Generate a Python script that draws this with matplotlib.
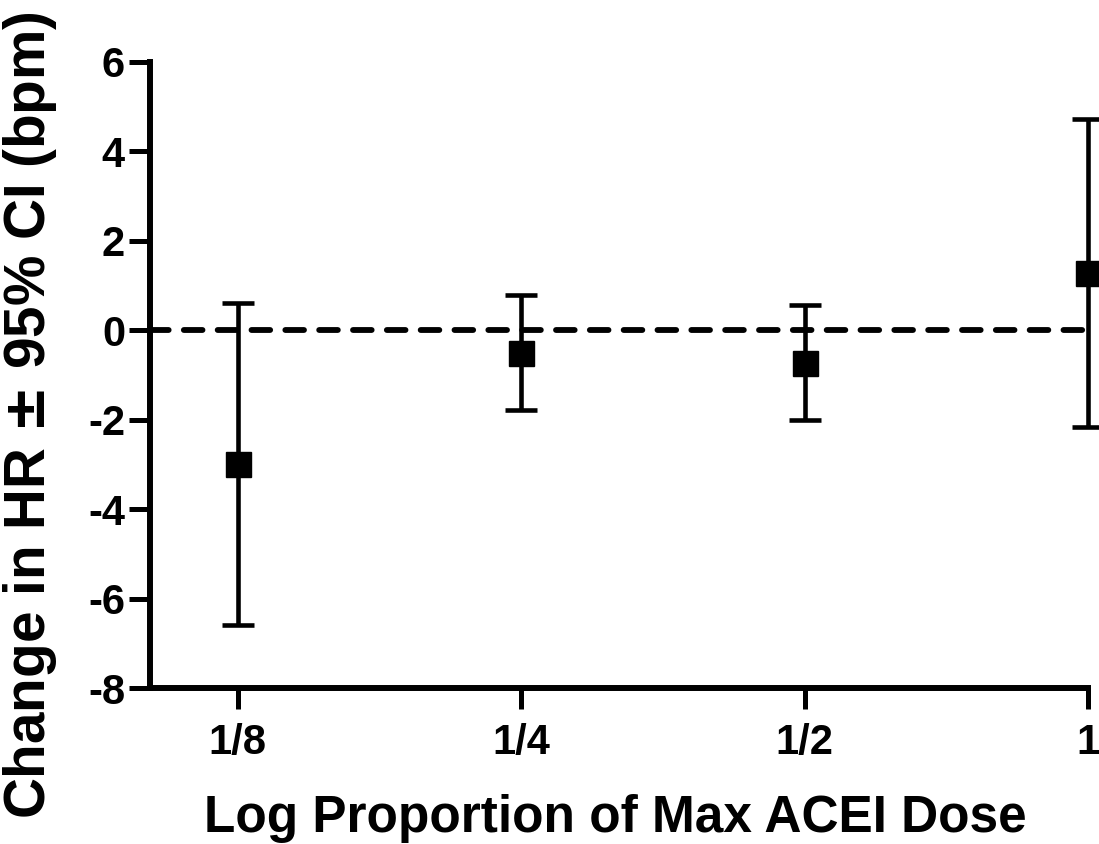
import numpy as np
import matplotlib.pyplot as plt

plt.rcParams['font.family'] = ['Liberation Sans', 'DejaVu Sans']
plt.rcParams['font.weight'] = 'bold'
plt.rcParams['axes.unicode_minus'] = False

# dose as proportion of max ACEI dose
dose = [1/8, 1/4, 1/2, 1]
dose_labels = ['1/8', '1/4', '1/2', '1']
# change in HR (bpm) with 95% CI
hr_change = [-3.0, -0.5, -0.73, 1.27]
ci_low = [-6.6, -1.79, -2.01, -2.16]
ci_high = [0.62, 0.79, 0.56, 4.72]

mean = np.array(hr_change)
yerr = [mean - np.array(ci_low), np.array(ci_high) - mean]

fig = plt.figure(figsize=(10.99, 8.44), dpi=100)
ax = fig.add_axes([150/1099, 156/844, 938/1099, 626/844])

ax.axhline(0, color='black', lw=4.2, linestyle=(0, (3.2, 2.6)),
           dash_capstyle='round', zorder=1)
ax.errorbar(dose, hr_change, yerr=yerr, fmt='s', color='black', ms=18,
            elinewidth=3.3, capsize=11.5, capthick=3.3, clip_on=False, zorder=3)

ax.set_xscale('log', base=2)
ax.set_xlim(2 ** -3.31, 1)
ax.set_ylim(-8, 6)
ax.set_xticks(dose)
ax.set_xticklabels(dose_labels)
ax.xaxis.set_minor_locator(plt.NullLocator())
ax.set_yticks(range(-8, 7, 2))

for s in ['top', 'right']:
    ax.spines[s].set_visible(False)
for s in ['left', 'bottom']:
    ax.spines[s].set_linewidth(4.3)
    ax.spines[s].set_capstyle('projecting')

ax.tick_params(axis='both', width=3.6, length=15, labelsize=30, direction='out')
ax.tick_params(axis='x', pad=10)
ax.tick_params(axis='y', pad=3)

ax.set_xlabel('Log Proportion of Max ACEI Dose', fontsize=37, fontweight='bold')
ax.set_ylabel(r'Change in HR $\pm$ 95% CI (bpm)', fontsize=40.8, fontweight='bold')
ax.xaxis.set_label_coords(0.496, -0.17)
ax.yaxis.set_label_coords(-0.097, 0.436)

fig.savefig('out.png', dpi=100)
